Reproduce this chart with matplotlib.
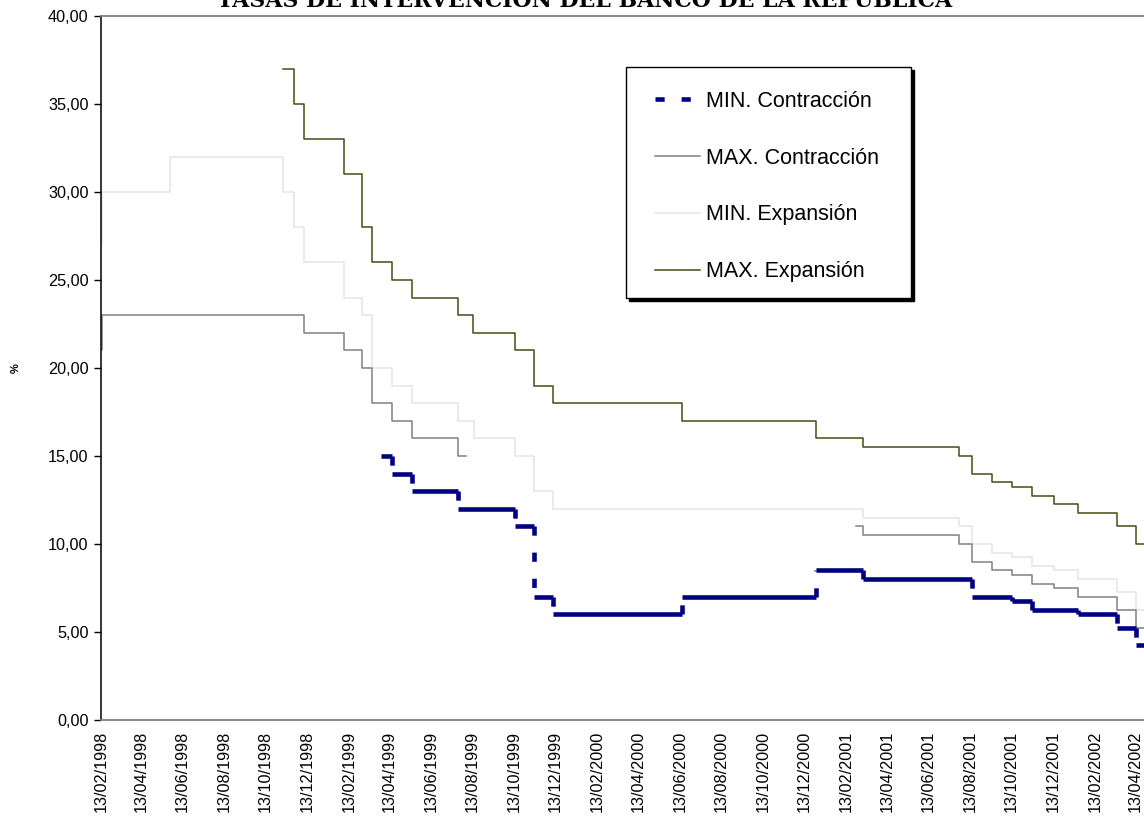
import matplotlib
matplotlib.use('Agg')
import matplotlib.pyplot as plt
import matplotlib.dates as mdates
from matplotlib.collections import LineCollection
from matplotlib.lines import Line2D
from matplotlib.patches import Rectangle
from matplotlib.ticker import MultipleLocator, FuncFormatter
import pandas as pd

plt.rcParams['font.family'] = ['Liberation Sans', 'DejaVu Sans']

# each value holds from its date until the next date (step series)
min_contr_dates = ['1999-04-01', '1999-04-17', '1999-05-16', '1999-07-23', '1999-10-15',
                   '1999-11-11', '1999-12-10', '2000-06-16', '2000-12-30', '2001-03-09',
                   '2001-08-16', '2001-10-14', '2001-11-12', '2002-01-19', '2002-03-17',
                   '2002-04-14']
min_contr_vals = [15, 14, 13, 12, 11, 7, 6, 7, 8.5, 8, 7, 6.75, 6.25, 6, 5.25, 4.25]

max_contr_dates = ['1998-02-13', '1998-02-14', '1998-12-09', '1999-02-05', '1999-03-03',
                   '1999-03-19', '1999-04-17', '1999-05-16', '1999-07-23', '1999-08-04',
                   '2001-02-27', '2001-03-09', '2001-07-28', '2001-08-16', '2001-09-15',
                   '2001-10-14', '2001-11-12', '2001-12-15', '2002-01-19', '2002-03-17',
                   '2002-04-14']
max_contr_vals = [21, 23, 22, 21, 20, 18, 17, 16, 15, float('nan'),
                  11, 10.5, 10, 9, 8.5, 8.25, 7.75, 7.5, 7, 6.25, 5.25]

min_exp_dates = ['1998-02-13', '1998-02-14', '1998-05-26', '1998-11-07', '1998-11-24',
                 '1998-12-09', '1999-02-05', '1999-03-03', '1999-03-19', '1999-04-17',
                 '1999-05-16', '1999-07-23', '1999-08-15', '1999-10-15', '1999-11-11',
                 '1999-12-10', '2001-03-09', '2001-07-28', '2001-08-16', '2001-09-15',
                 '2001-10-14', '2001-11-12', '2001-12-15', '2002-01-19', '2002-03-17',
                 '2002-04-14']
min_exp_vals = [27, 30, 32, 30, 28, 26, 24, 23, 20, 19, 18, 17, 16, 15, 13, 12,
                11.5, 11, 10, 9.5, 9.25, 8.75, 8.5, 8, 7.25, 6.25]

max_exp_dates = ['1998-11-07', '1998-11-24', '1998-12-09', '1999-02-05', '1999-03-03',
                 '1999-03-19', '1999-04-17', '1999-05-16', '1999-07-23', '1999-08-14',
                 '1999-10-15', '1999-11-11', '1999-12-10', '2000-06-16', '2000-12-30',
                 '2001-03-09', '2001-07-28', '2001-08-16', '2001-09-15', '2001-10-14',
                 '2001-11-12', '2001-12-15', '2002-01-19', '2002-03-17', '2002-04-14']
max_exp_vals = [37, 35, 33, 31, 28, 26, 25, 24, 23, 22, 21, 19, 18, 17, 16, 15.5,
                15, 14, 13.5, 13.25, 12.75, 12.25, 11.75, 11, 10]

end_date = '2002-04-30'
x_start, x_end = '1998-02-13', '2002-04-26'
labels = ['MIN. Contracción', 'MAX. Contracción', 'MIN. Expansión', 'MAX. Expansión']
title = 'TASAS DE INTERVENCIÓN DEL BANCO DE LA REPÚBLICA'

navy, grey, light, olive = '#000080', '#808080', '#e4e4e4', '#4a4a14'

W, H = 1144, 819
fig = plt.figure(figsize=(W / 100, H / 100), dpi=100)
ax = fig.add_axes([101 / W, 1 - 720 / H, 1 - 101 / W, (720 - 16) / H])


def step_line(dates, vals, **kw):
    d = pd.to_datetime(dates + [end_date])
    ax.step(d, vals + [vals[-1]], where='post', **kw)


step_line(min_exp_dates, min_exp_vals, color=light, lw=1.1)
step_line(max_contr_dates, max_contr_vals, color=grey, lw=1.1)
step_line(max_exp_dates, max_exp_vals, color=olive, lw=1.1)

# MIN. Contracción: solid horizontal runs, dashed jumps
nx = mdates.date2num(pd.to_datetime(min_contr_dates + [end_date]))
nv = min_contr_vals
h_segs = [[(nx[i], nv[i]), (nx[i + 1], nv[i])] for i in range(len(nv))]
v_segs = [[(nx[i], nv[i - 1]), (nx[i], nv[i])] for i in range(1, len(nv))]
dash = (0, (2.0, 3.7))
ax.add_collection(LineCollection(h_segs, colors=navy, linewidths=3.3, capstyle='butt', zorder=3))
ax.add_collection(LineCollection(v_segs, colors=navy, linewidths=3.3, linestyles=[dash], zorder=3))

ax.set_xlim(pd.Timestamp(x_start), pd.Timestamp(x_end))
ax.set_ylim(0, 40)
ax.yaxis.set_major_locator(MultipleLocator(5))
ax.yaxis.set_major_formatter(FuncFormatter(lambda v, p: f'{v:.2f}'.replace('.', ',')))
ax.xaxis.set_major_locator(mdates.MonthLocator(bymonth=[2, 4, 6, 8, 10, 12], bymonthday=13))
ax.xaxis.set_major_formatter(mdates.DateFormatter('%d/%m/%Y'))
ax.tick_params(axis='x', length=0, pad=8, labelsize=11.7, labelrotation=90)
ax.tick_params(axis='y', length=5, width=1, direction='out', labelsize=11.7, pad=4)

ax.spines['right'].set_visible(False)
ax.spines['left'].set_color('black')
ax.spines['left'].set_linewidth(1.1)
for s in ('top', 'bottom'):
    ax.spines[s].set_color(grey)
    ax.spines[s].set_linewidth(1.3)

fig.text(16 / W, 1 - 368 / H, '%', rotation=90, fontweight='bold', fontsize=8,
         ha='center', va='center')
fig.text(585 / W, 1 - 7 / H, title, ha='center', va='baseline',
         fontfamily='DejaVu Serif', fontweight='bold', fontsize=15.8)

# legend box with black drop shadow
bx, by, bw, bh = 626, 67, 285, 231
fig.patches.append(Rectangle(((bx + 3) / W, 1 - (by + bh + 3) / H), bw / W, bh / H,
                             transform=fig.transFigure, facecolor='black',
                             edgecolor='black', zorder=4))
fig.patches.append(Rectangle((bx / W, 1 - (by + bh) / H), bw / W, bh / H,
                             transform=fig.transFigure, facecolor='white',
                             edgecolor='black', lw=1.0, zorder=5))

handles = [Line2D([], [], color=navy, lw=3.3, linestyle=dash),
           Line2D([], [], color=grey, lw=1.1),
           Line2D([], [], color=light, lw=1.1),
           Line2D([], [], color=olive, lw=1.1)]
leg = fig.legend(handles, labels, loc='upper left', bbox_to_anchor=(655 / W, 1 - 91 / H),
                 fontsize=15.5, frameon=False, labelspacing=1.66, handlelength=2.1,
                 handletextpad=0.27, borderpad=0, borderaxespad=0)
leg.set_zorder(6)

fig.savefig('out.png', dpi=100)
